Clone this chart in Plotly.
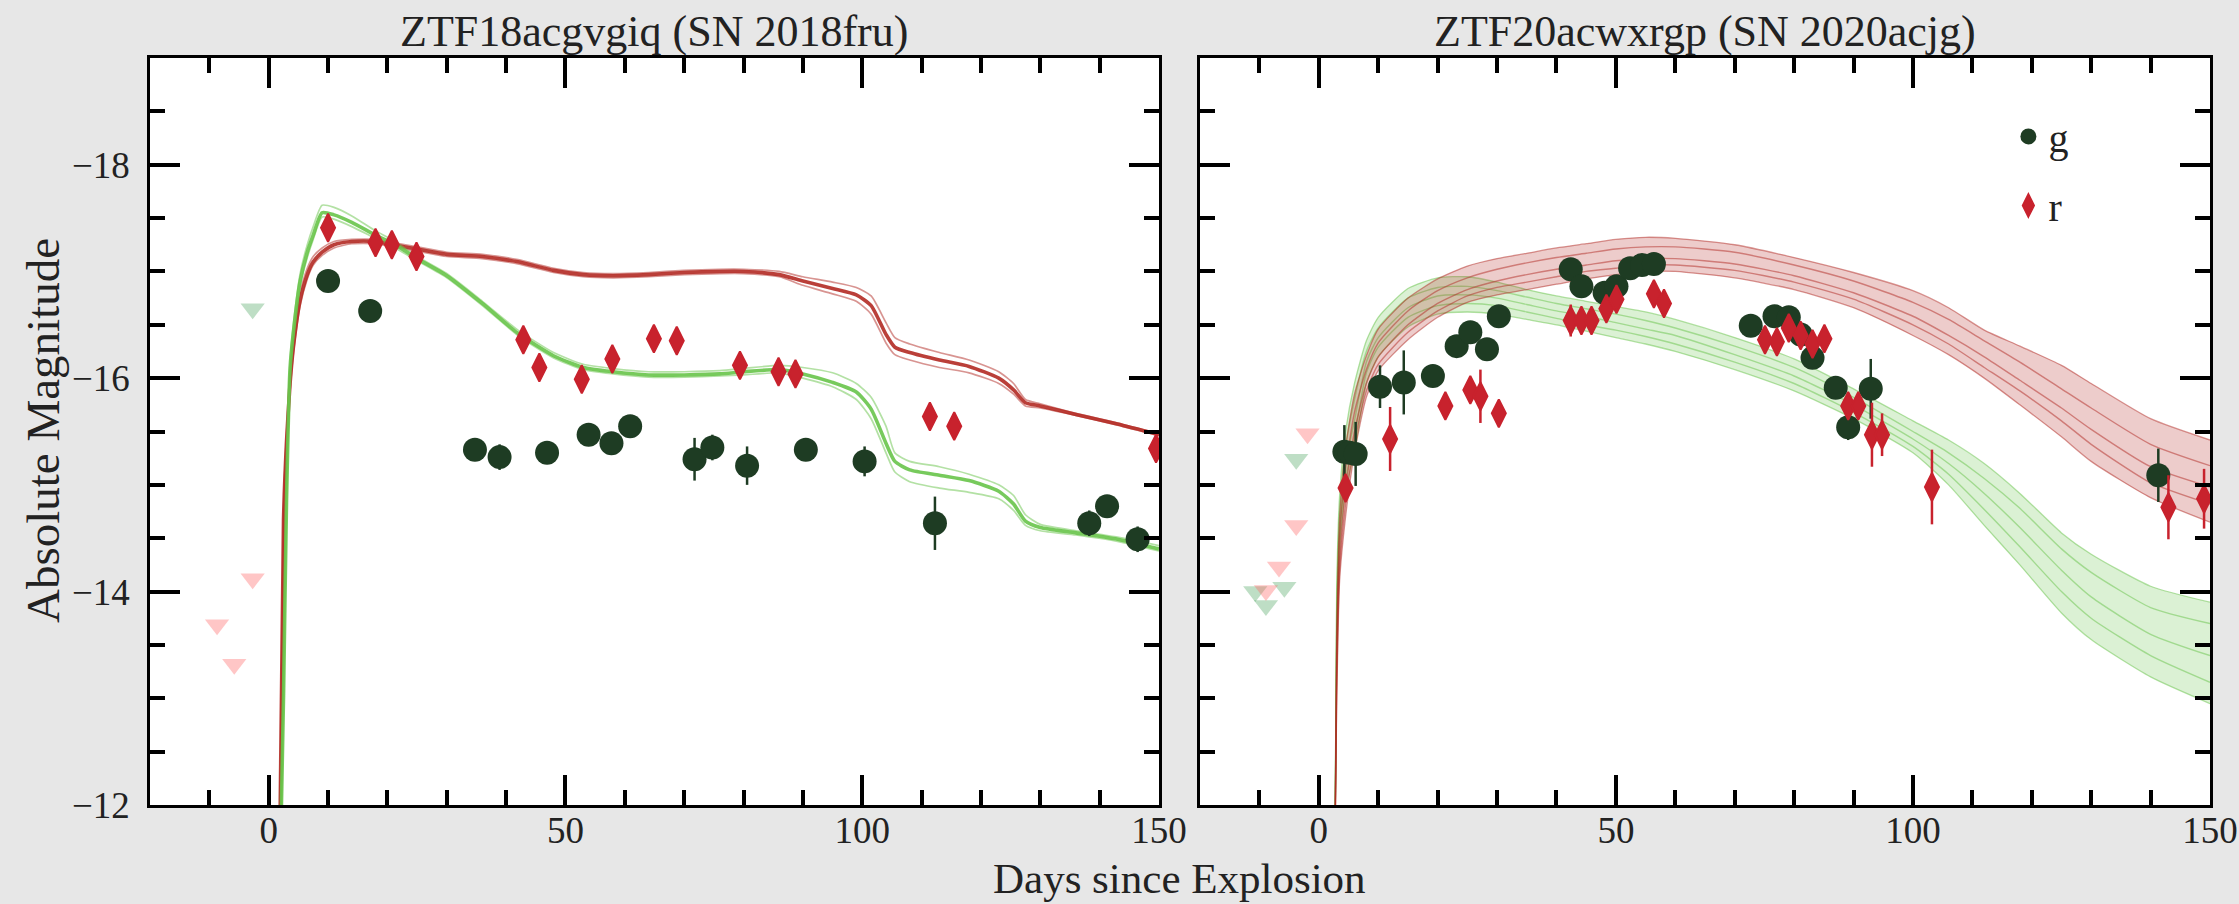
import plotly.graph_objects as go

# ---------------- Left panel: ZTF18acgvgiq (SN 2018fru) ----------------
L_g_day = [10.0, 17.1, 34.75, 38.9, 46.9, 53.9, 57.75, 60.9, 71.75, 74.75, 80.6, 90.5, 100.4, 112.25, 138.25, 141.25, 146.4]
L_g_mag = [-16.91, -16.63, -15.33, -15.26, -15.30, -15.47, -15.39, -15.55, -15.24, -15.35, -15.18, -15.33, -15.22, -14.64, -14.64, -14.80, -14.49]
L_g_err = [0.04, 0.04, 0.05, 0.12, 0.06, 0.05, 0.06, 0.05, 0.20, 0.12, 0.18, 0.10, 0.14, 0.25, 0.12, 0.10, 0.12]

L_r_day = [10.0, 18.0, 20.75, 24.9, 42.9, 45.6, 52.75, 57.9, 64.9, 68.75, 79.4, 85.9, 88.75, 111.4, 115.5, 149.5]
L_r_mag = [-17.41, -17.27, -17.25, -17.14, -16.36, -16.10, -15.99, -16.18, -16.37, -16.35, -16.12, -16.06, -16.04, -15.64, -15.55, -15.34]
L_r_err = [0.04, 0.03, 0.03, 0.03, 0.04, 0.04, 0.04, 0.04, 0.03, 0.03, 0.04, 0.03, 0.03, 0.05, 0.04, 0.06]

L_glim_day = [-2.7]
L_glim_mag = [-16.65]
L_rlim_day = [-2.7, -8.7, -5.8]
L_rlim_mag = [-14.12, -13.69, -13.32]

# model light curves (left)
L_mod_day = [1.8, 2.5, 3.0, 3.6, 4.2, 5.3, 6.5, 7.5, 9.0, 11, 14, 18, 21, 25, 30, 36, 42, 48, 53, 58,
             64, 70, 76, 80, 86, 90, 95, 99, 101.5, 104, 105.5, 108, 113, 118, 123, 125.5, 127.5, 130, 136, 143, 150]
L_g_mid = [-11.0, -13.03, -14.85, -16.09, -16.45, -16.91, -17.18, -17.34, -17.55, -17.53, -17.46, -17.34, -17.26, -17.12, -16.96, -16.70, -16.42, -16.21, -16.10, -16.06,
           -16.03, -16.03, -16.04, -16.06, -16.08, -16.04, -15.96, -15.87, -15.71, -15.39, -15.22, -15.14, -15.09, -15.04, -14.94, -14.82, -14.66, -14.60, -14.55, -14.49, -14.40]
L_g_hi = [-11.0, -13.10, -14.95, -16.15, -16.52, -16.98, -17.25, -17.42, -17.62, -17.60, -17.52, -17.38, -17.29, -17.14, -16.98, -16.72, -16.45, -16.24, -16.13, -16.09,
          -16.06, -16.06, -16.07, -16.09, -16.12, -16.10, -16.05, -15.95, -15.82, -15.55, -15.30, -15.22, -15.17, -15.10, -15.00, -14.90, -14.72, -14.63, -14.57, -14.51, -14.43]
L_g_lo = [-11.0, -12.98, -14.78, -16.03, -16.40, -16.86, -17.13, -17.30, -17.51, -17.49, -17.42, -17.31, -17.23, -17.10, -16.94, -16.68, -16.40, -16.19, -16.08, -16.04,
          -16.01, -16.01, -16.02, -16.03, -16.05, -16.00, -15.92, -15.80, -15.62, -15.30, -15.12, -15.03, -14.97, -14.93, -14.87, -14.76, -14.62, -14.57, -14.53, -14.47, -14.38]
L_r_mid = [-11.3, -14.67, -15.40, -15.95, -16.31, -16.73, -16.97, -17.09, -17.18, -17.25, -17.28, -17.28, -17.25, -17.21, -17.16, -17.14, -17.09, -17.01, -16.97, -16.96,
           -16.97, -16.99, -17.00, -17.00, -16.97, -16.91, -16.84, -16.78, -16.68, -16.41, -16.29, -16.24, -16.17, -16.11, -16.00, -15.89, -15.77, -15.74, -15.66, -15.57, -15.47]
L_r_hi = [-11.3, -14.75, -15.48, -16.02, -16.38, -16.80, -17.03, -17.14, -17.22, -17.28, -17.30, -17.30, -17.27, -17.23, -17.18, -17.16, -17.11, -17.03, -16.99, -16.98,
          -16.99, -17.01, -17.02, -17.02, -17.00, -16.95, -16.90, -16.85, -16.77, -16.52, -16.38, -16.32, -16.24, -16.17, -16.06, -15.95, -15.80, -15.76, -15.67, -15.58, -15.48]
L_r_lo = [-11.3, -14.60, -15.33, -15.88, -16.25, -16.68, -16.93, -17.06, -17.15, -17.22, -17.26, -17.26, -17.23, -17.19, -17.14, -17.12, -17.07, -16.99, -16.95, -16.94,
          -16.95, -16.97, -16.98, -16.98, -16.95, -16.87, -16.79, -16.72, -16.60, -16.33, -16.22, -16.17, -16.10, -16.05, -15.95, -15.85, -15.74, -15.72, -15.65, -15.56, -15.46]

# ---------------- Right panel: ZTF20acwxrgp (SN 2020acjg) ----------------
R_g_day = [4.3, 5.2, 6.2, 10.3, 14.3, 19.2, 23.2, 25.5, 28.3, 30.3, 42.4, 44.2, 48.1, 50.1, 52.4, 54.4, 56.4,
           72.7, 76.7, 79.1, 81.1, 83.1, 87.0, 89.1, 92.9, 141.3]
R_g_mag = [-15.31, -15.30, -15.29, -15.92, -15.96, -16.02, -16.30, -16.43, -16.27, -16.58, -17.02, -16.86, -16.80, -16.86, -17.03, -17.06, -17.07,
           -16.49, -16.58, -16.57, -16.41, -16.19, -15.91, -15.54, -15.90, -15.09]
R_g_err = [0.25, 0.10, 0.30, 0.20, 0.30, 0.10, 0.08, 0.10, 0.10, 0.08, 0.05, 0.05, 0.05, 0.05, 0.05, 0.05, 0.05,
           0.05, 0.08, 0.05, 0.05, 0.05, 0.08, 0.12, 0.28, 0.25]

R_r_day = [4.5, 12.0, 21.3, 25.5, 27.2, 30.3, 42.4, 44.2, 45.9, 48.4, 50.1, 56.4, 58.1,
           75.1, 77.1, 79.1, 81.1, 83.1, 85.1, 89.1, 90.8, 93.1, 94.8, 103.2, 143.0, 149.0]
R_r_mag = [-14.97, -15.43, -15.74, -15.89, -15.83, -15.67, -16.54, -16.54, -16.54, -16.65, -16.74, -16.79, -16.70,
           -16.36, -16.34, -16.47, -16.40, -16.32, -16.37, -15.74, -15.74, -15.47, -15.47, -14.98, -14.79, -14.87]
R_r_err = [0.12, 0.30, 0.08, 0.10, 0.25, 0.12, 0.15, 0.08, 0.08, 0.08, 0.08, 0.08, 0.08,
           0.10, 0.08, 0.08, 0.08, 0.08, 0.08, 0.10, 0.10, 0.30, 0.20, 0.35, 0.30, 0.28]

R_glim_day = [-3.8, -10.7, -8.9, -5.8]
R_glim_mag = [-15.24, -14.00, -13.87, -14.04]
R_rlim_day = [-1.9, -3.8, -6.7, -8.9]
R_rlim_mag = [-15.48, -14.62, -14.23, -14.01]

# model light-curve bundles (right)
R_mod_day = [2.7, 3.0, 3.5, 4.5, 6, 8, 10, 15, 20, 25, 30, 35, 40, 45, 50, 55, 60, 70, 80, 90, 100, 106, 112, 118, 125, 130, 140, 150]
R_r_curves = [
    [-11.5, -13.6, -14.7, -15.35, -15.85, -16.21, -16.46, -16.75, -16.93, -17.05, -17.12, -17.17, -17.22, -17.26, -17.30, -17.32, -17.31, -17.25, -17.13, -16.99, -16.82, -16.66, -16.45, -16.30, -16.12, -15.95, -15.62, -15.42],
    [-11.5, -13.4, -14.5, -15.15, -15.68, -16.08, -16.33, -16.63, -16.82, -16.94, -17.02, -17.08, -17.13, -17.17, -17.21, -17.23, -17.23, -17.18, -17.06, -16.91, -16.71, -16.55, -16.35, -16.15, -15.90, -15.72, -15.38, -15.18],
    [-11.5, -13.2, -14.3, -14.95, -15.50, -15.95, -16.20, -16.50, -16.70, -16.83, -16.91, -16.97, -17.02, -17.06, -17.10, -17.12, -17.12, -17.07, -16.96, -16.80, -16.58, -16.40, -16.20, -15.98, -15.72, -15.52, -15.17, -14.98],
    [-11.5, -13.05, -14.2, -14.82, -15.40, -15.88, -16.13, -16.43, -16.63, -16.77, -16.85, -16.90, -16.95, -17.00, -17.03, -17.06, -17.06, -17.01, -16.90, -16.74, -16.50, -16.32, -16.10, -15.88, -15.60, -15.38, -15.02, -14.82],
    [-11.5, -12.9, -14.1, -14.70, -15.30, -15.82, -16.07, -16.36, -16.57, -16.71, -16.78, -16.83, -16.88, -16.93, -16.97, -17.00, -17.00, -16.94, -16.83, -16.66, -16.40, -16.22, -16.00, -15.75, -15.45, -15.22, -14.88, -14.65],
]
R_g_curves = [
    [-11.5, -14.0, -14.9, -15.50, -15.95, -16.35, -16.57, -16.84, -16.94, -16.95, -16.90, -16.83, -16.77, -16.72, -16.67, -16.62, -16.55, -16.38, -16.18, -15.90, -15.60, -15.42, -15.20, -14.92, -14.55, -14.35, -14.05, -13.90],
    [-11.5, -13.8, -14.75, -15.35, -15.80, -16.25, -16.47, -16.75, -16.85, -16.86, -16.82, -16.76, -16.70, -16.65, -16.60, -16.54, -16.47, -16.30, -16.10, -15.82, -15.50, -15.30, -15.06, -14.78, -14.40, -14.18, -13.85, -13.70],
    [-11.5, -13.6, -14.6, -15.20, -15.60, -16.15, -16.38, -16.66, -16.77, -16.78, -16.75, -16.69, -16.63, -16.58, -16.52, -16.46, -16.40, -16.22, -16.02, -15.75, -15.43, -15.20, -14.92, -14.60, -14.20, -13.95, -13.60, -13.40],
    [-11.5, -13.45, -14.5, -15.05, -15.45, -16.05, -16.29, -16.57, -16.68, -16.70, -16.68, -16.62, -16.56, -16.50, -16.45, -16.39, -16.32, -16.15, -15.95, -15.68, -15.36, -15.10, -14.77, -14.42, -14.00, -13.75, -13.40, -13.15],
    [-11.5, -13.3, -14.4, -14.95, -15.30, -15.95, -16.20, -16.48, -16.60, -16.62, -16.60, -16.55, -16.50, -16.44, -16.38, -16.32, -16.25, -16.08, -15.88, -15.62, -15.30, -15.00, -14.62, -14.25, -13.80, -13.55, -13.20, -12.95],
]

TITLE_L = "ZTF18acgvgiq (SN 2018fru)"
TITLE_R = "ZTF20acwxrgp (SN 2020acjg)"
X_TICKS = [0, 50, 100, 150]
Y_TICKS = [-18, -16, -14, -12]

# ---------------- styling ----------------
FONT = "Liberation Serif"
C_G = "#1e3c23"
C_R = "#c8222d"
C_GLINE = "rgba(104,196,74,{a})"
C_RLINE = "rgba(178,42,36,{a})"
C_GLIM = "rgba(70,160,90,0.35)"
C_RLIM = "rgba(255,105,105,0.38)"

fig = go.Figure()


def add_data(xa, ya, gd, gm, ge, rd, rm, re, gld, glm, rld, rlm, legend):
    fig.add_trace(go.Scatter(x=gld, y=glm, mode="markers", xaxis=xa, yaxis=ya, showlegend=False,
                             marker=dict(symbol="triangle-down", size=21, color=C_GLIM), hoverinfo="skip"))
    fig.add_trace(go.Scatter(x=rld, y=rlm, mode="markers", xaxis=xa, yaxis=ya, showlegend=False,
                             marker=dict(symbol="triangle-down", size=21, color=C_RLIM), hoverinfo="skip"))
    fig.add_trace(go.Scatter(x=gd, y=gm, mode="markers", xaxis=xa, yaxis=ya, name="g", showlegend=legend,
                             legendgroup="g",
                             marker=dict(symbol="circle", size=24, color=C_G),
                             error_y=dict(type="data", array=ge, visible=True, thickness=2.5, width=0, color=C_G)))
    fig.add_trace(go.Scatter(x=rd, y=rm, mode="markers", xaxis=xa, yaxis=ya, name="r", showlegend=legend,
                             legendgroup="r",
                             marker=dict(symbol="diamond-tall", size=20, color=C_R, line=dict(color=C_R, width=2)),
                             error_y=dict(type="data", array=re, visible=True, thickness=2.5, width=0, color=C_R)))


# left model bundles
for curve, a, w in [(L_r_hi, 0.5, 1.7), (L_r_lo, 0.5, 1.7), (L_r_mid, 0.9, 3.6)]:
    fig.add_trace(go.Scatter(x=L_mod_day, y=curve, mode="lines", xaxis="x", yaxis="y", showlegend=False,
                             line=dict(color=C_RLINE.format(a=a), width=w, shape="spline", smoothing=0.6), hoverinfo="skip"))
for curve, a, w in [(L_g_hi, 0.5, 1.7), (L_g_lo, 0.5, 1.7), (L_g_mid, 0.9, 3.6)]:
    fig.add_trace(go.Scatter(x=L_mod_day, y=curve, mode="lines", xaxis="x", yaxis="y", showlegend=False,
                             line=dict(color=C_GLINE.format(a=a), width=w, shape="spline", smoothing=0.6), hoverinfo="skip"))

# right model bundles (fill between envelope + individual strands)
for curves, col in [(R_g_curves, C_GLINE), (R_r_curves, C_RLINE)]:
    fig.add_trace(go.Scatter(x=R_mod_day, y=curves[0], mode="lines", xaxis="x2", yaxis="y2", showlegend=False,
                             line=dict(color=col.format(a=0.5), width=1.3, shape="spline", smoothing=0.6), hoverinfo="skip"))
    fig.add_trace(go.Scatter(x=R_mod_day, y=curves[-1], mode="lines", xaxis="x2", yaxis="y2", showlegend=False,
                             fill="tonexty", fillcolor=col.format(a=0.24),
                             line=dict(color=col.format(a=0.5), width=1.3, shape="spline", smoothing=0.6), hoverinfo="skip"))
    for c in curves[1:-1]:
        fig.add_trace(go.Scatter(x=R_mod_day, y=c, mode="lines", xaxis="x2", yaxis="y2", showlegend=False,
                                 line=dict(color=col.format(a=0.5), width=1.4, shape="spline", smoothing=0.6), hoverinfo="skip"))

add_data("x", "y", L_g_day, L_g_mag, L_g_err, L_r_day, L_r_mag, L_r_err,
         L_glim_day, L_glim_mag, L_rlim_day, L_rlim_mag, False)
add_data("x2", "y2", R_g_day, R_g_mag, R_g_err, R_r_day, R_r_mag, R_r_err,
         R_glim_day, R_glim_mag, R_rlim_day, R_rlim_mag, True)

xa_common = dict(range=[-20, 150], tickvals=X_TICKS, ticks="inside", ticklen=30, tickwidth=4, tickcolor="black",
                 minor=dict(dtick=10, tick0=0, ticks="inside", ticklen=15, tickwidth=4, tickcolor="black"),
                 showline=True, linecolor="black", linewidth=2.5, mirror="ticks", showgrid=False, zeroline=False,
                 tickfont=dict(family=FONT, size=37, color="#222222"), ticklabelstandoff=-9)
ya_common = dict(range=[-12, -19], tickvals=Y_TICKS, ticktext=["\u221218", "\u221216", "\u221214", "\u221212"],
                 ticks="inside", ticklen=30, tickwidth=4, tickcolor="black",
                 minor=dict(dtick=0.5, tick0=-12, ticks="inside", ticklen=15, tickwidth=4, tickcolor="black"),
                 showline=True, linecolor="black", linewidth=2.5, mirror="ticks", showgrid=False, zeroline=False,
                 tickfont=dict(family=FONT, size=37, color="#222222"), ticklabelstandoff=10)

fig.update_layout(
    width=2239, height=904, autosize=False,
    margin=dict(l=0, r=0, t=0, b=0, autoexpand=False),
    paper_bgcolor="#e7e7e7", plot_bgcolor="white",
    xaxis=dict(domain=[0.06699, 0.51764], anchor="y", automargin=False, **xa_common),
    yaxis=dict(domain=[0.10951, 0.93584], anchor="x", automargin=False, **ya_common),
    xaxis2=dict(domain=[0.53595, 0.98705], anchor="y2", automargin=False, **xa_common),
    yaxis2=dict(domain=[0.10951, 0.93584], anchor="x2", automargin=False, showticklabels=False, **ya_common),
    legend=dict(x=0.897, y=0.885, xanchor="left", yanchor="top", bgcolor="rgba(0,0,0,0)",
                font=dict(family=FONT, size=40, color="#222222"), tracegroupgap=14, itemsizing="trace"),
    font=dict(family=FONT, color="#222222"),
    annotations=[
        dict(text=TITLE_L, x=0.2923, y=0.9657, xref="paper", yref="paper", showarrow=False,
             xanchor="center", yanchor="middle", font=dict(family=FONT, size=44, color="#222222")),
        dict(text=TITLE_R, x=0.7615, y=0.9657, xref="paper", yref="paper", showarrow=False,
             xanchor="center", yanchor="middle", font=dict(family=FONT, size=44, color="#222222")),
        dict(text="Days since Explosion", x=0.527, y=0.0, xref="paper", yref="paper", showarrow=False,
             xanchor="center", yanchor="bottom", font=dict(family=FONT, size=43, color="#222222")),
        dict(text="Absolute Magnitude", x=0.0192, y=0.5243, xref="paper", yref="paper", showarrow=False,
             textangle=-90, xanchor="center", yanchor="middle", font=dict(family=FONT, size=47, color="#222222")),
    ],
)

fig.write_html("out.html", config={"responsive": False},
               post_script="document.body.style.margin='0';document.body.style.overflow='hidden';")
